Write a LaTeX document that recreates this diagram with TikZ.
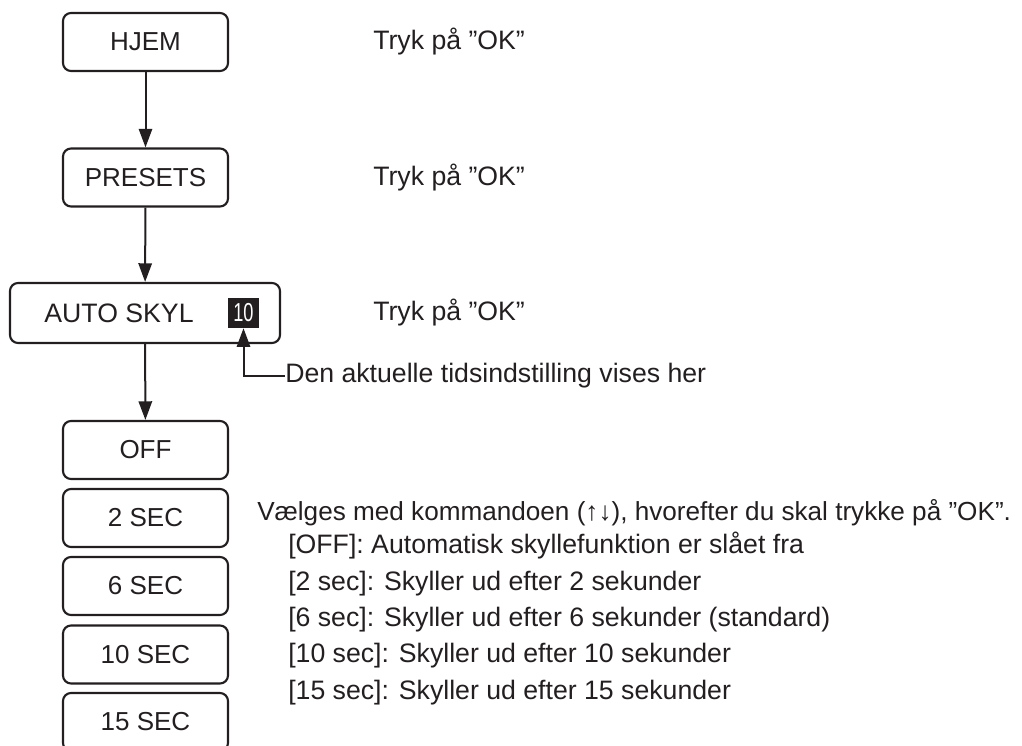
\documentclass[tikz,border=0pt]{standalone}
\usepackage{fontspec}
\setmainfont{Liberation Sans}
\usetikzlibrary{arrows.meta,positioning}
\definecolor{ink}{HTML}{231F20}

\begin{document}
\begin{tikzpicture}[
    x=0.75pt, y=-0.75pt,
    menubox/.style={draw=ink, line width=1.6pt, rounded corners=6pt, minimum width=123.75pt,
                    minimum height=43.5pt, inner sep=0pt, font=\fontsize{19.5}{23}\selectfont, text=ink},
    note/.style={anchor=west, inner sep=0pt, font=\fontsize{20}{26.6}\selectfont, text=ink},
    flow/.style={-{Triangle[length=14pt, width=10pt]}, line width=1.5pt, draw=ink},
]
\clip (0,0) rectangle (1022,746);

% menu chain
\node[menubox] (hjem) at (145.5, 42) {HJEM};
\node[menubox] (presets) at (145.5, 177.5) {PRESETS};
\node[menubox, minimum width=202.5pt, minimum height=45pt] (auto) at (145, 313) {};
\node[note, anchor=center] (autolbl) at (119, 313) {AUTO SKYL};
\node[fill=ink, minimum width=23.25pt, minimum height=22.5pt, inner sep=0pt, text=white,
      font=\fontsize{19.5}{23}\selectfont] (val) at (243.5, 313) {\scalebox{0.7}[1]{10}};

% options
\node[menubox] (off) at (145.5, 450) {OFF};
\node[menubox] (s2) at (145.5, 518) {2 SEC};
\node[menubox] (s6) at (145.5, 586) {6 SEC};
\node[menubox] (s10) at (145.5, 654.5) {10 SEC};
\node[menubox] (s15) at (145.5, 722) {15 SEC};

\draw[flow] (hjem) -- (presets);
\draw[flow] (presets) -- (auto);
\draw[flow] (auto) -- (off);

% remarks
\node[note] (ok1) at (373, 42) {Tryk på ”OK”};
\node[note] (ok2) at (373, 178) {Tryk på ”OK”};
\node[note] (ok3) at (373, 313) {Tryk på ”OK”};
\node[note] (cur) at (285, 376) {Den aktuelle tidsindstilling vises her};
\draw[flow] (cur.west) -| (val.south);

\node[note, font=\fontsize{19.6}{26.6}\selectfont] (sel) at (257, 513)
    {Vælges med kommandoen (↑↓), hvorefter du skal trykke på ”OK”.};
\node[note, anchor=north west, align=left, font=\fontsize{20}{27.3}\selectfont] (list) at (288, 532) {%
    {[}OFF{]}: Automatisk skyllefunktion er slået fra\\
    {[}2 sec{]}: Skyller ud efter 2 sekunder\\
    {[}6 sec{]}: Skyller ud efter 6 sekunder (standard)\\
    {[}10 sec{]}: Skyller ud efter 10 sekunder\\
    {[}15 sec{]}: Skyller ud efter 15 sekunder};
\end{tikzpicture}
\end{document}
